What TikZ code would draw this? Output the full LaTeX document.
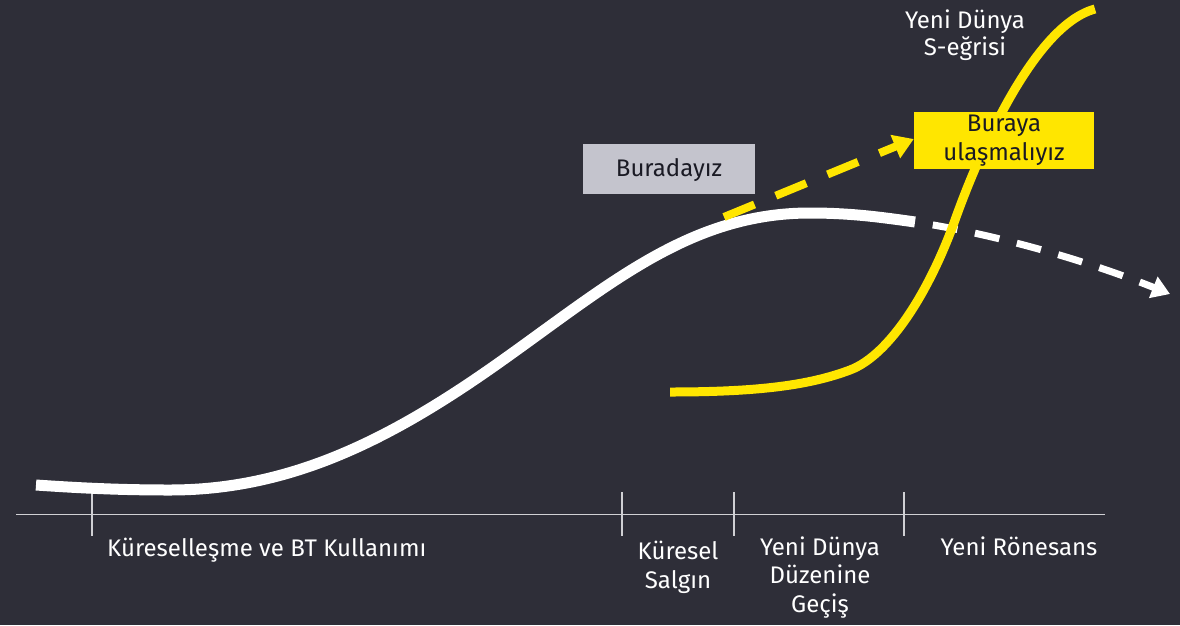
\documentclass[tikz,border=0pt]{standalone}
\usepackage{fontspec}
\setmainfont{Fira Sans}
\usetikzlibrary{arrows.meta}
\definecolor{bgc}{HTML}{2E2E38}
\definecolor{eyyel}{HTML}{FFE600}
\definecolor{boxgrey}{HTML}{C4C4CD}
\definecolor{axisc}{HTML}{D0D0D4}
\definecolor{darktxt}{HTML}{1A1A24}
\begin{document}
\begin{tikzpicture}[x=1pt,y=-1pt,
  lbl/.style={text=white,font=\fontsize{24}{28.5}\selectfont,align=center,inner sep=0pt},
  tickline/.style={draw=axisc,line width=1.2pt},
  whitecurve/.style={draw=white,line width=11pt},
  yelcurve/.style={draw=eyyel,line width=9pt},
  ]
\fill[bgc] (0,0) rectangle (1180,625);
\useasboundingbox (0,0) rectangle (1180,625);
% axis
\draw[tickline] (16,514.5) -- (1105,514.5);
\foreach \x/\a/\b in {92/493/536,622/492/536,734/492/536,904/492/536}
  \draw[tickline] (\x,\a) -- (\x,\b);
% white S-curve
\draw[whitecurve] (36,485) .. controls (80,488) and (120,490) .. (170,490)
  .. controls (290,490) and (390,440) .. (500,362)
  .. controls (610,284) and (690,213) .. (810,213)
  .. controls (850,213) and (880,217) .. (915,222);
\coordinate (wend) at (915,222);
\coordinate (wtip) at (1170,294);
\draw[white,line width=7pt,dash pattern=on 25pt off 18pt,dash phase=25pt,-{Triangle[length=18pt,width=22pt]}] (wend) .. controls (1000,235) and (1090,262) .. (wtip);
% yellow S-curve
\draw[yelcurve] (670,392) .. controls (760,392) and (810,385) .. (850,370)
  .. controls (890,355) and (930,290) .. (955,220)
  .. controls (980,150) and (1035,25) .. (1095,9);
% boxes
\node[fill=boxgrey,minimum width=172pt,minimum height=50pt,inner sep=0pt,text=darktxt,text height=16.5pt,text depth=0pt,font=\fontsize{24}{28}\selectfont] (here) at (669,168.5) {Buradayız};
\node[fill=eyyel,minimum width=180pt,minimum height=57pt,inner sep=0pt,text=darktxt,align=center,font=\fontsize{24}{30}\selectfont] (target) at (1004,140.5) {Buraya\\[-1pt]ulaşmalıyız};
\coordinate (start) at (724,217);
\draw[eyyel,line width=8pt,dash pattern=on 33pt off 23pt,-{Triangle[length=20pt,width=24pt]}] (start) -- (target.west|-0,139);
% labels
\node[lbl,anchor=base] (nys) at (965,55) {Yeni Dünya\\[-1.5pt]S-eğrisi};
\node[lbl,anchor=base west] (l1) at (107,556) {Küreselleşme ve BT Kullanımı};
\node[lbl,anchor=base] (l2) at (678,588) {Küresel\\Salgın};
\node[lbl,anchor=base] (l3) at (820,612) {Yeni Dünya\\Düzenine\\Geçiş};
\node[lbl,anchor=base] (l4) at (1019,555) {Yeni Rönesans};
\end{tikzpicture}
\end{document}
